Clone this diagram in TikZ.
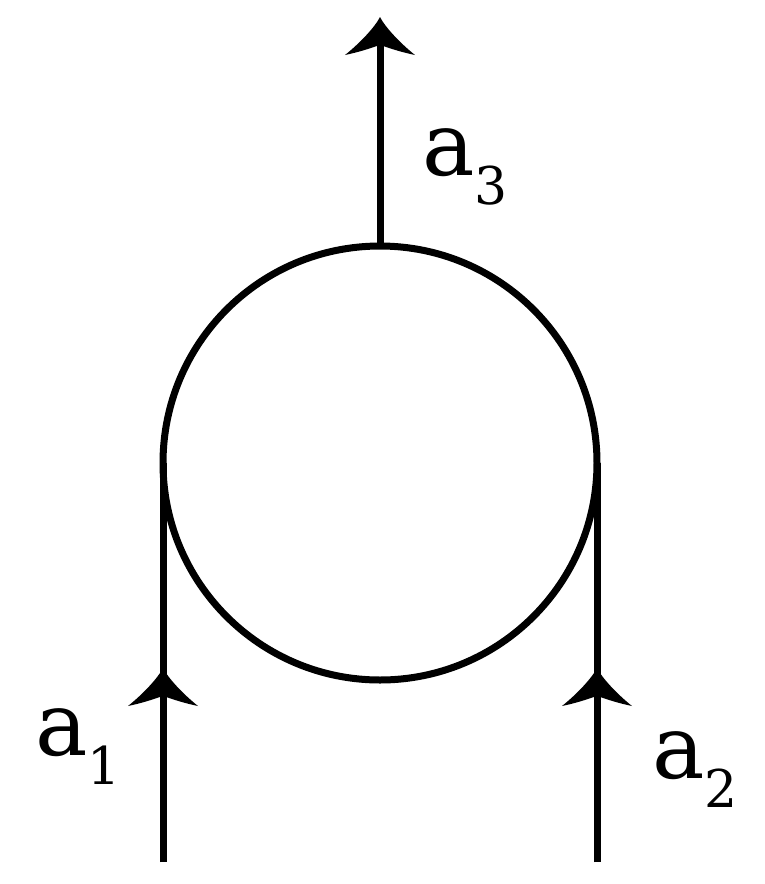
\documentclass[tikz,border=0pt]{standalone}
\usepackage{fontspec}
\setmainfont{DejaVu Serif}
\usetikzlibrary{arrows.meta}
\newcommand{\wirelabel}[2]{#1\raisebox{-0.33em}{\fontsize{52}{52}\selectfont #2}}

% arrow head with hollow flanks
\pgfdeclarearrow{
  name = Flared,
  setup code = {
    \pgfarrowssettipend{0pt}
    \pgfarrowssetlineend{-26pt}
    \pgfarrowssetvisualbackend{-38pt}
    \pgfarrowsupperhullpoint{-38pt}{35pt}
    \pgfarrowshullpoint{0pt}{0pt}
  },
  drawing code = {
    \pgfpathmoveto{\pgfpoint{0pt}{0pt}}
    \pgfpathcurveto{\pgfpoint{-10pt}{5pt}}{\pgfpoint{-26pt}{20pt}}{\pgfpoint{-38pt}{35pt}}
    \pgfpathcurveto{\pgfpoint{-34pt}{16pt}}{\pgfpoint{-30pt}{7pt}}{\pgfpoint{-28pt}{0pt}}
    \pgfpathcurveto{\pgfpoint{-30pt}{-7pt}}{\pgfpoint{-34pt}{-16pt}}{\pgfpoint{-38pt}{-35pt}}
    \pgfpathcurveto{\pgfpoint{-26pt}{-20pt}}{\pgfpoint{-10pt}{-5pt}}{\pgfpoint{0pt}{0pt}}
    \pgfpathclose
    \pgfusepathqfill
  },
}

\begin{document}
\begin{tikzpicture}[
    x=1pt, y=-1pt,
    line width=7pt,
    >=Flared,
    loopstyle/.style={draw, circle, minimum size=434pt, inner sep=0pt, outer sep=0pt},
    lbl/.style={font=\fontsize{88}{88}\selectfont, inner sep=0pt, anchor=base west},
]
\useasboundingbox (0,0) rectangle (764,884);

% Loop
\node[loopstyle] (loop) at (380,463) {};

% Free ends
\coordinate (in1) at (163,862);
\coordinate (in2) at (597,862);
\coordinate (out) at (380,17);

% Legs
\draw (in1) -- (loop.west);
\draw[->] (in1) -- ++(0,-194);
\draw (in2) -- (loop.east);
\draw[->] (in2) -- ++(0,-194);
\draw[->] (loop.north) -- (out);

% Labels
\node[lbl] (lab1) at (32,755) {\wirelabel{a}{1}};
\node[lbl] (lab2) at (649,778) {\wirelabel{a}{2}};
\node[lbl] (lab3) at (419,175) {\wirelabel{a}{3}};

\end{tikzpicture}
\end{document}
